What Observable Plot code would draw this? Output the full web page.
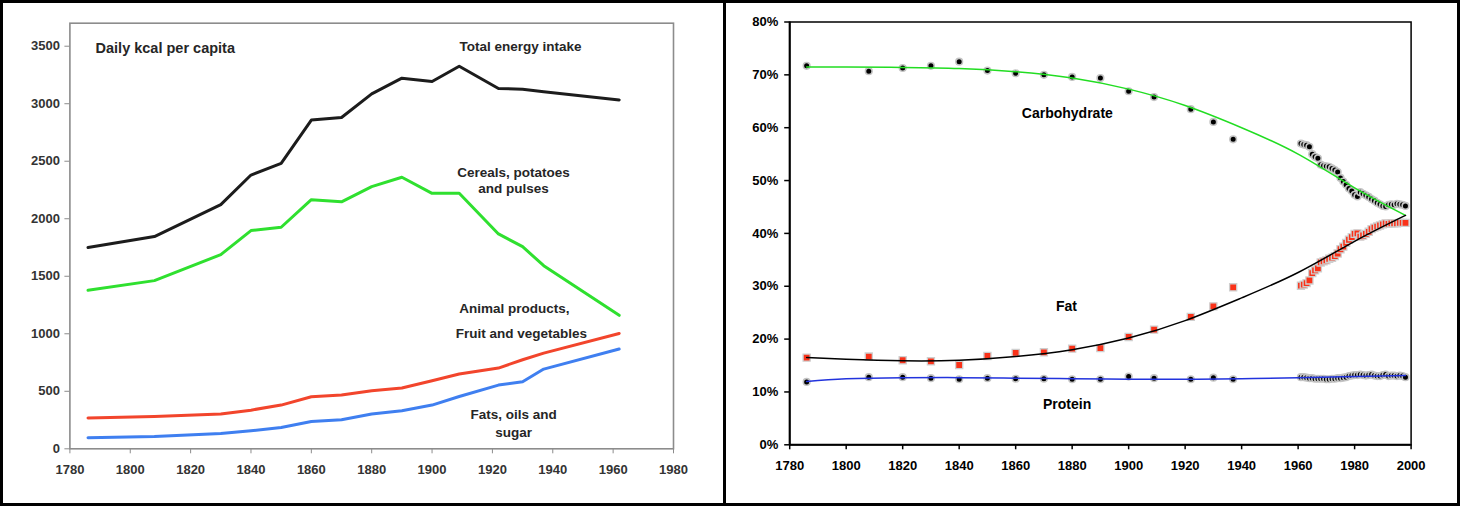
<!DOCTYPE html>
<html><head><meta charset="utf-8">
<script src="https://cdn.jsdelivr.net/npm/d3@7"></script>
<script src="https://cdn.jsdelivr.net/npm/@observablehq/plot@0.6"></script>
<style>
html,body{margin:0;padding:0;background:#fff;}
#wrap{position:relative;width:1460px;height:506px;overflow:hidden;background:#fff;}
#left{position:absolute;left:0;top:0;}
#right{position:absolute;left:725px;top:0;}
#divider{position:absolute;left:723px;top:0;width:3px;height:506px;background:#000;}
#border{position:absolute;left:0;top:0;width:1460px;height:506px;box-sizing:border-box;border:3px solid #000;pointer-events:none;}
svg{display:block;}
</style></head><body>
<div id="wrap"><div id="left"></div><div id="right"></div><div id="divider"></div><div id="border"></div></div>
<script>
// ---------- LEFT CHART DATA (daily kcal per capita) ----------
const leftYears      = [1786, 1808, 1830, 1840, 1850, 1860, 1870, 1880, 1890, 1900, 1909, 1922, 1930, 1937, 1962];
const totalEnergy    = [1750, 1845, 2123, 2380, 2482, 2858, 2880, 3086, 3222, 3193, 3326, 3132, 3126, 3105, 3033];
const cerealsPotatoes= [1378, 1462, 1688, 1897, 1926, 2166, 2147, 2279, 2361, 2221, 2221, 1868, 1757, 1592, 1160];
const animalFruitVeg = [267, 281, 302, 336, 380, 452, 467, 505, 528, 592, 650, 702, 774, 832, 1003];
const fatsOilsSugar  = [96, 107, 133, 157, 186, 238, 252, 302, 331, 380, 455, 554, 583, 693, 867];
const leftXTicks = [1780, 1800, 1820, 1840, 1860, 1880, 1900, 1920, 1940, 1960, 1980];
const leftYTicks = [0, 500, 1000, 1500, 2000, 2500, 3000, 3500];
const leftLabels = [
  {text: "Daily kcal per capita", year: 1788.5, kcal: 3491, anchor: "start", size: 14.5},
  {text: "Total energy intake", year: 1929.3, kcal: 3500, anchor: "middle", size: 13.5},
  {text: "Cereals, potatoes\nand pulses", year: 1927, kcal: 2342, anchor: "middle", size: 13.5, lh: 1.2},
  {text: "Animal products,", year: 1927.3, kcal: 1228, anchor: "middle", size: 13.5},
  {text: "Fruit and vegetables", year: 1929.6, kcal: 1011, anchor: "middle", size: 13.5},
  {text: "Fats, oils and\nsugar", year: 1927, kcal: 229, anchor: "middle", size: 13.5, lh: 1.33}
];

// ---------- RIGHT CHART DATA (% of energy) ----------
const histYears   = [1786, 1808, 1820, 1830, 1840, 1850, 1860, 1870, 1880, 1890, 1900, 1909, 1922, 1930, 1937];
const carbHist    = [71.7, 70.7, 71.3, 71.7, 72.5, 70.8, 70.3, 70.0, 69.6, 69.4, 66.9, 65.8, 63.5, 61.1, 57.8];
const fatHist     = [16.5, 16.7, 16.0, 15.8, 15.1, 16.8, 17.4, 17.5, 18.2, 18.3, 20.4, 21.8, 24.2, 26.2, 29.8];
const proteinHist = [11.9, 12.8, 12.8, 12.6, 12.4, 12.6, 12.5, 12.5, 12.4, 12.4, 12.9, 12.6, 12.4, 12.7, 12.4];

const annualYears = [1961, 1962, 1963, 1964, 1965, 1966, 1967, 1968, 1969, 1970, 1971, 1972, 1973, 1974, 1975, 1976, 1977, 1978, 1979,
                     1980, 1981, 1982, 1983, 1984, 1985, 1986, 1987, 1988, 1989, 1990, 1991, 1992, 1993, 1994, 1995, 1996, 1997, 1998];
const carbAnnual  = [57.0, 56.8, 56.7, 56.4, 55.0, 54.5, 54.2, 53.0, 52.8, 52.7, 52.6, 52.3, 52.0, 51.6, 50.5, 49.8, 49.2, 48.5, 48.0,
                     47.3, 47.0, 47.8, 47.5, 47.2, 46.9, 46.5, 46.2, 45.8, 45.5, 45.2, 45.1, 45.4, 45.5, 45.4, 45.6, 45.5, 45.4, 45.2];
const fatAnnual   = [30.1, 30.3, 30.6, 31.1, 32.5, 33.0, 33.4, 34.5, 34.7, 34.9, 35.2, 35.4, 35.7, 36.2, 37.0, 37.5, 38.2, 38.8, 39.3,
                     39.9, 40.0, 39.4, 39.6, 39.9, 40.3, 40.8, 41.1, 41.3, 41.5, 41.7, 41.9, 41.8, 41.9, 41.9, 41.9, 42.0, 42.0, 42.0];
const protAnnual  = [12.8, 12.8, 12.7, 12.6, 12.6, 12.5, 12.5, 12.5, 12.5, 12.4, 12.4, 12.5, 12.5, 12.6, 12.6, 12.7, 12.8, 13.0, 13.1,
                     13.2, 13.2, 13.3, 13.2, 13.1, 13.2, 13.3, 13.1, 13.0, 13.0, 13.2, 13.3, 13.0, 13.1, 13.1, 13.0, 13.1, 13.0, 12.8];

// fitted trend curves
const trendYears   = [1786, 1800, 1820, 1840, 1860, 1880, 1900, 1920, 1940, 1960, 1980, 1998];
const carbTrend    = [71.5, 71.5, 71.4, 71.2, 70.6, 69.4, 67.3, 64.2, 60.0, 55.0, 48.6, 43.4];
const fatTrend     = [16.5, 16.2, 15.9, 16.0, 16.7, 18.0, 20.2, 23.5, 27.8, 32.6, 38.5, 43.4];
const proteinTrend = [12.0, 12.5, 12.7, 12.7, 12.6, 12.5, 12.4, 12.4, 12.5, 12.7, 12.9, 13.1];

const rightXTicks = [1780, 1800, 1820, 1840, 1860, 1880, 1900, 1920, 1940, 1960, 1980, 2000];
const rightYTicks = [0, 10, 20, 30, 40, 50, 60, 70, 80];
const rightLabels = [
  {text: "Carbohydrate", year: 1878.3, pct: 62.7},
  {text: "Fat", year: 1878.0, pct: 26.2},
  {text: "Protein", year: 1878.2, pct: 7.6}
];

// ---------- build tables ----------
const font = "'Liberation Sans', Arial, Helvetica, sans-serif";
const toRows = (xs, ys, key) => xs.map((x, i) => ({year: x, [key]: ys[i]}));

const leftPlot = Plot.plot({
  width: 725, height: 506,
  marginLeft: 69.4, marginRight: 52, marginTop: 22.7, marginBottom: 57.7,
  x: {domain: [1780, 1980]},
  y: {domain: [0, 3700]},
  style: {fontFamily: font, fontSize: "13px", fontWeight: "bold", color: "#333", background: "#fff", overflow: "visible"},
  marks: [
    Plot.axisX({ticks: leftXTicks, tickFormat: d => String(d), tickSize: 5, tickPadding: 11, stroke: "#8c8c8c", label: null, fill: "#333"}),
    Plot.axisY({ticks: leftYTicks, tickFormat: d => String(d), tickSize: 5, tickPadding: 5, stroke: "#8c8c8c", label: null, fill: "#333"}),
    Plot.frame({stroke: "#8c8c8c", strokeWidth: 1.6}),
    Plot.line(toRows(leftYears, fatsOilsSugar, "kcal"), {x: "year", y: "kcal", stroke: "#3f7ff0", strokeWidth: 3, strokeLinejoin: "round"}),
    Plot.line(toRows(leftYears, animalFruitVeg, "kcal"), {x: "year", y: "kcal", stroke: "#f2452c", strokeWidth: 3, strokeLinejoin: "round"}),
    Plot.line(toRows(leftYears, cerealsPotatoes, "kcal"), {x: "year", y: "kcal", stroke: "#2fe02f", strokeWidth: 3, strokeLinejoin: "round"}),
    Plot.line(toRows(leftYears, totalEnergy, "kcal"), {x: "year", y: "kcal", stroke: "#1c1c1c", strokeWidth: 3, strokeLinejoin: "round"}),
    ...leftLabels.map(l => Plot.text([l], {x: "year", y: "kcal", text: "text", textAnchor: l.anchor, lineAnchor: "middle",
      lineHeight: l.lh || 1.2, fontSize: l.size, fontWeight: "bold", fill: "#262626"}))
  ]
});
document.getElementById("left").appendChild(leftPlot);

const rightPlot = Plot.plot({
  width: 735, height: 506,
  marginLeft: 64.2, marginRight: 49.4, marginTop: 21.5, marginBottom: 61.7,
  x: {domain: [1780, 2000]},
  y: {domain: [0, 80]},
  style: {fontFamily: font, fontSize: "13px", fontWeight: "bold", color: "#000", background: "#fff", overflow: "visible"},
  marks: [
    Plot.axisX({ticks: rightXTicks, tickFormat: d => String(d), tickSize: 5, tickPadding: 10.5, stroke: "#000", strokeWidth: 1.5, label: null}),
    Plot.axisY({ticks: rightYTicks, tickFormat: d => d + "%", tickSize: 5, tickPadding: 6.5, stroke: "#000", strokeWidth: 1.5, label: null}),
    Plot.frame({stroke: "#000", strokeWidth: 1.5}),
    Plot.ruleX([1780], {stroke: "#000", strokeWidth: 2}),
    Plot.ruleY([0], {stroke: "#000", strokeWidth: 2}),
    // data points
    Plot.dot(toRows(histYears, carbHist, "pct").concat(toRows(annualYears, carbAnnual, "pct")),
      {x: "year", y: "pct", r: 3.3, fill: "#000", stroke: "#c4c4c4", strokeWidth: 1.6}),
    Plot.dot(toRows(histYears, proteinHist, "pct").concat(toRows(annualYears, protAnnual, "pct")),
      {x: "year", y: "pct", r: 3.3, fill: "#000", stroke: "#c4c4c4", strokeWidth: 1.6}),
    Plot.dot(toRows(histYears, fatHist, "pct").concat(toRows(annualYears, fatAnnual, "pct")),
      {x: "year", y: "pct", symbol: "square", r: 4, fill: "#fa3219", stroke: "#cfcfcf", strokeWidth: 1.3}),
    // trend curves
    Plot.line(toRows(trendYears, carbTrend, "pct"), {x: "year", y: "pct", curve: "natural", stroke: "#22dd22", strokeWidth: 1.5}),
    Plot.line(toRows(trendYears, fatTrend, "pct"), {x: "year", y: "pct", curve: "natural", stroke: "#000", strokeWidth: 1.5}),
    Plot.line(toRows(trendYears, proteinTrend, "pct"), {x: "year", y: "pct", curve: "natural", stroke: "#2233dd", strokeWidth: 1.5}),
    Plot.text(rightLabels, {x: "year", y: "pct", text: "text", fontSize: 14, fontWeight: "bold", fill: "#000"})
  ]
});
document.getElementById("right").appendChild(rightPlot);
</script>
</body></html>
